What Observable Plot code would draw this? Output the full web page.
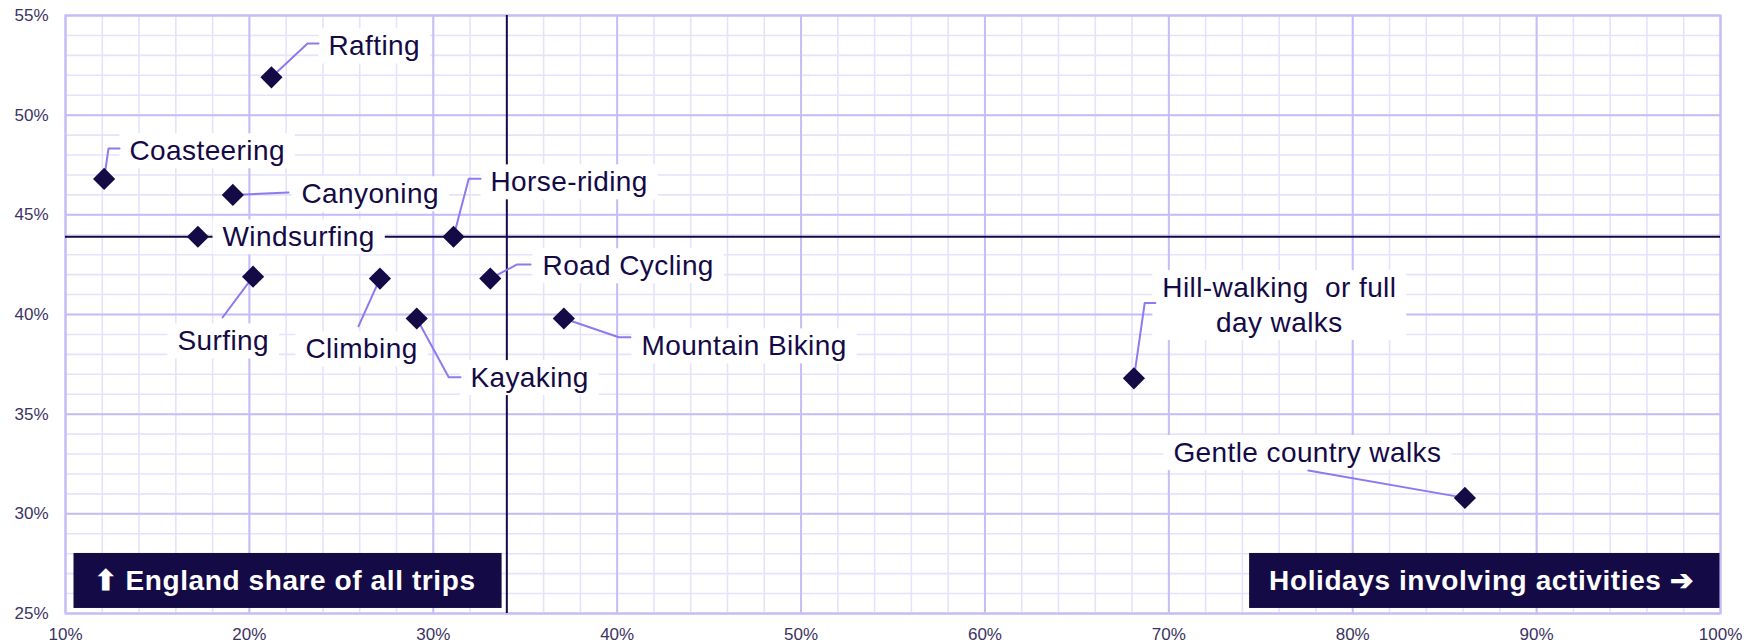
<!DOCTYPE html>
<html>
<head>
<meta charset="utf-8">
<script src="https://cdn.jsdelivr.net/npm/d3@7"></script>
<script src="https://cdn.jsdelivr.net/npm/@observablehq/plot@0.6"></script>
<style>
  html, body { margin: 0; padding: 0; background: #ffffff; }
  #chart { width: 1761px; height: 644px; }
</style>
</head>
<body>
<div id="chart"></div>
<script>
// ---------- data ----------
const activities = ["Rafting", "Coasteering", "Canyoning", "Windsurfing", "Horse-riding", "Surfing",
  "Climbing", "Road Cycling", "Kayaking", "Mountain Biking", "Hill-walking  or full\nday walks", "Gentle country walks"];
// x: share of holidays involving the activity (%)
const holidayShare = [21.2, 12.1, 19.1, 17.2, 31.1, 20.2, 27.1, 33.1, 29.1, 37.1, 68.1, 86.1];
// y: England share of all trips (%)
const englandShare = [51.9, 46.8, 46.0, 43.9, 43.9, 41.9, 41.8, 41.8, 39.8, 39.8, 36.8, 30.8];

// reference (average) lines
const refX = [34];
const refY = [43.9];

// data-label anchors (in data units) and leader-line elbows
const labelX = [24.30, 13.48, 22.83, 18.54, 33.11, 16.09, 23.05, 35.94, 32.02, 41.32, 76.01, 70.25];
const labelY = [53.56, 48.30, 46.14, 43.98, 46.74, 38.76, 38.36, 42.53, 36.92, 38.51, 40.56, 33.16];
const labelCentered = [false, false, false, false, false, false, false, false, false, false, true, false];
const elbowX = [23.16, 12.34, 22.13, null, 31.93, 18.54, 25.93, 34.56, 30.84, 40.09, 68.69, 77.59];
const elbowY = [53.60, 48.33, 46.12, null, 46.81, 39.85, 39.40, 42.51, 36.85, 38.86, 40.58, 32.17];
const tailX  = [23.76, 12.94, null, null, 32.57, null, null, 35.29, 31.48, 40.72, 69.27, null];

// axis ticks
const xTicks = d3.range(10, 101, 10);
const xMinor = d3.range(10, 101, 2);
const yTicks = d3.range(25, 56, 5);
const yMinor = d3.range(25, 56, 1);

// corner captions
const yCaption = ["⬆ England share of all trips"];
const xCaption = ["Holidays involving activities ➔"];

// ---------- styles ----------
const FONT = '"Liberation Sans", Arial, Helvetica, sans-serif';
const NAVY = "#140a46";
const MAJOR = "#c6bdf7";
const MINOR = "#e6e2fc";
const LEADER = "#8b7bef";

const rows = activities.map((name, i) => ({
  name, x: holidayShare[i], y: englandShare[i], lx: labelX[i], ly: labelY[i], centered: labelCentered[i]
}));
const leaderPts = [];
activities.forEach((name, i) => {
  if (elbowX[i] == null) return;
  leaderPts.push({name, x: holidayShare[i], y: englandShare[i]});
  leaderPts.push({name, x: elbowX[i], y: elbowY[i]});
  if (tailX[i] != null) leaderPts.push({name, x: tailX[i], y: elbowY[i]});
});

const labelStyle = {fontSize: 28, fill: NAVY, fontFamily: FONT, lineHeight: 1.25};

const plot = Plot.plot({
  width: 1761,
  height: 644,
  marginLeft: 65,
  marginRight: 41,
  marginTop: 15,
  marginBottom: 31,
  style: {fontFamily: FONT, fontSize: "17px", color: "#3b3363", background: "#ffffff", overflow: "visible"},
  x: {domain: [10, 100], ticks: xTicks, tickFormat: d => d + "%", tickSize: 0, tickPadding: 14, label: null},
  y: {domain: [25, 55], ticks: yTicks, tickFormat: d => d + "%", tickSize: 0, tickPadding: 17, label: null},
  marks: [
    Plot.ruleX(xMinor, {stroke: MINOR, strokeWidth: 1.6}),
    Plot.ruleY(yMinor, {stroke: MINOR, strokeWidth: 1.6}),
    Plot.ruleX(xTicks, {stroke: MAJOR, strokeWidth: 2}),
    Plot.ruleY(yTicks, {stroke: MAJOR, strokeWidth: 2}),
    Plot.frame({stroke: MAJOR, strokeWidth: 2}),
    Plot.ruleX(refX, {stroke: NAVY, strokeWidth: 2}),
    Plot.ruleY(refY, {stroke: NAVY, strokeWidth: 2}),
    // text mark #0 and #1: activity labels
    Plot.text(rows.filter(d => !d.centered), {x: "lx", y: "ly", text: "name", textAnchor: "start", ...labelStyle}),
    Plot.text(rows.filter(d => d.centered), {x: "lx", y: "ly", text: "name", textAnchor: "middle", ...labelStyle}),
    Plot.line(leaderPts, {x: "x", y: "y", z: "name", stroke: LEADER, strokeWidth: 2, curve: "linear"}),
    Plot.dot(rows, {x: "x", y: "y", symbol: "diamond2", r: 10, fill: NAVY, stroke: "none"}),
    // text mark #2 and #3: corner captions
    Plot.text(yCaption, {frameAnchor: "bottom-left", text: d => d, textAnchor: "start", lineAnchor: "middle", dx: 28, dy: -32.5,
      fontSize: 28, fontWeight: "bold", fill: "#ffffff", fontFamily: FONT}),
    Plot.text(xCaption, {frameAnchor: "bottom-right", text: d => d, textAnchor: "end", lineAnchor: "middle", dx: -27, dy: -32.5,
      fontSize: 28, fontWeight: "bold", fill: "#ffffff", fontFamily: FONT})
  ]
});

document.getElementById("chart").append(plot);

// white boxes behind activity labels, dark boxes behind corner captions
const svgEl = plot.tagName.toLowerCase() === "svg" ? plot : plot.querySelector("svg");
const root = svgEl.getBoundingClientRect();
const NS = "http://www.w3.org/2000/svg";
const textGroups = Array.from(svgEl.querySelectorAll(':scope > g[aria-label="text"]'));
textGroups.slice(0, 2).forEach(g => g.querySelectorAll("text").forEach(t => t.style.letterSpacing = "0.4px"));
textGroups.slice(2, 4).forEach(g => g.querySelectorAll("text").forEach(t => t.style.letterSpacing = "0.6px"));

function addBoxes(groups, fill, padL, padR, padY, fixedH) {
  groups.forEach(g => {
    const box = document.createElementNS(NS, "g");
    g.querySelectorAll("text").forEach(t => {
      const r = t.getBoundingClientRect();
      const rect = document.createElementNS(NS, "rect");
      const x0 = r.left - root.left - padL, x1 = r.right - root.left + padR;
      let y0, h;
      if (fixedH) { const cy = (r.top + r.bottom) / 2 - root.top; y0 = cy - fixedH / 2; h = fixedH; }
      else { y0 = r.top - root.top - padY; h = r.height + 2 * padY; }
      rect.setAttribute("x", x0); rect.setAttribute("y", y0);
      rect.setAttribute("width", x1 - x0); rect.setAttribute("height", h);
      rect.setAttribute("fill", fill);
      box.append(rect);
    });
    g.parentNode.insertBefore(box, g);
  });
}
addBoxes(textGroups.slice(0, 2), "#ffffff", 10, 10, 2, 0);
addBoxes(textGroups.slice(2, 4), NAVY, 20, 26, 0, 55);
</script>
</body>
</html>
